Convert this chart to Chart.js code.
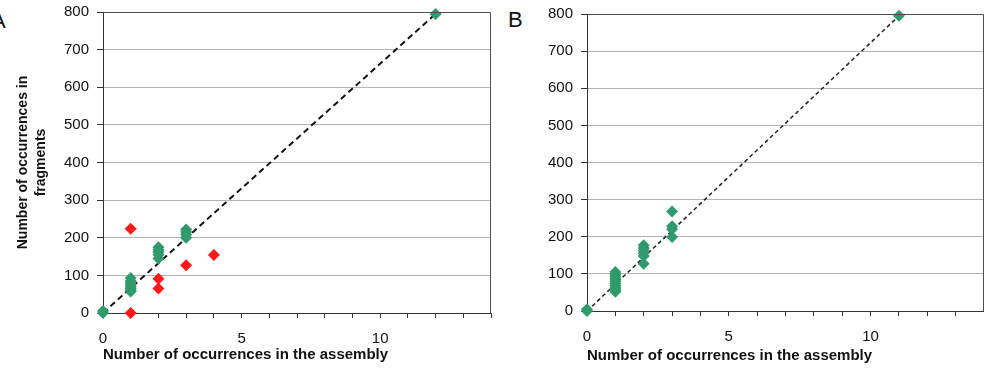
<!DOCTYPE html>
<html><head><meta charset="utf-8">
<script src="https://cdn.jsdelivr.net/npm/chart.js@4"></script>
<style>
html,body{margin:0;padding:0;background:#fff;width:984px;height:371px;overflow:hidden;font-family:"Liberation Sans",Arial,sans-serif;position:relative;}
canvas{position:absolute;top:0;}
.lbl{position:absolute;font-size:22px;color:#111;}
</style></head><body>
<div class="lbl" style="left:-9px;top:8px;">A</div>
<div class="lbl" style="left:508px;top:7px;">B</div>
<canvas id="ca" width="497" height="371" style="left:0"></canvas>
<canvas id="cb" width="490" height="371" style="left:500px"></canvas>
<script>
// Panel A data
const aGreenX = [0,0,1,1,1,1,1,1,1,1,2,2,2,2,2,3,3,3,3,12];
const aGreenY = [0,5,93,85,80,75,70,65,60,57,175,168,162,155,145,222,215,208,200,795];
const aRedX = [1,1,2,2,3,4];
const aRedY = [224,0,91,65,127,154];
const aLineX = [0,12];
const aLineY = [0,795];
// Panel B data
const bGreenX = [0,0,1,1,1,1,1,1,1,1,1,1,2,2,2,2,2,2,3,3,3,3,11];
const bGreenY = [0,5,105,98,92,86,80,74,68,62,57,52,177,170,163,156,148,127,268,228,220,199,795];
const bLineX = [0,11];
const bLineY = [0,795];
// Axis ticks
const xMin = 0, xMax = 14, xStep = 1, xLabelEvery = 5;
const yMin = 0, yMax = 800, yStep = 100;
const xTitle = 'Number of occurrences in the assembly';
const yTitleA = ['Number of occurrences in', 'fragments'];

const GREEN = '#2f9a6c', RED = '#ff1a1a';
const pts = (xs, ys) => xs.map((x, i) => ({x, y: ys[i]}));
const FONT = '"Liberation Sans", Arial, sans-serif';

const frame = {
  id: 'frame',
  afterDraw(c) {
    const a = c.chartArea, ctx = c.ctx;
    ctx.save();
    ctx.strokeStyle = '#505050'; ctx.lineWidth = 1;
    ctx.beginPath();
    ctx.moveTo(Math.round(a.left) + 0.5, Math.round(a.top) + 0.5);
    ctx.lineTo(Math.round(a.right) - 0.5, Math.round(a.top) + 0.5);
    ctx.lineTo(Math.round(a.right) - 0.5, Math.round(a.bottom));
    ctx.stroke();
    ctx.restore();
  }
};

function makeChart(id, datasets, opts) {
  return new Chart(document.getElementById(id), {
    type: 'scatter',
    data: {datasets},
    plugins: [frame],
    options: {
      responsive: false, animation: false, devicePixelRatio: 1,
      layout: {padding: {top: opts.top, right: 0, left: 0, bottom: 0}},
      plugins: {legend: {display: false}, tooltip: {enabled: false}},
      scales: {
        x: {
          type: 'linear', min: xMin, max: xMax,
          afterFit(s) { s.height = opts.xh; s.paddingLeft = 0; s.paddingRight = 0; },
          ticks: {stepSize: xStep, autoSkip: false, color: '#111', padding: 12,
            maxRotation: 0,
            font: {family: FONT, size: 15},
            callback: v => (v % xLabelEvery === 0 ? String(v) : '')},
          grid: {drawOnChartArea: false, drawTicks: true, tickLength: 5, tickColor: '#333'},
          border: {color: '#333', width: 1},
          title: {display: true, text: xTitle, align: 'start', color: '#111',
            font: {family: FONT, size: 15, weight: 'bold', lineHeight: 1.2},
            padding: {top: 0, bottom: opts.xtp}}
        },
        y: {
          type: 'linear', min: yMin, max: yMax,
          afterFit(s) { s.width = opts.yw; s.paddingTop = 0; s.paddingBottom = 0; },
          ticks: {stepSize: yStep, color: '#111', padding: 8,
            font: {family: FONT, size: 15}},
          grid: {color: '#b4b4b4', tickColor: '#333', tickLength: 6},
          border: {color: '#333', width: 1},
          title: opts.ytitle ? {display: true, text: opts.ytitle, color: '#111',
            font: {family: FONT, size: 14, weight: 'bold', lineHeight: 1.3},
            padding: {top: 14, bottom: 0}} : {display: false}
        }
      }
    }
  });
}

const diamond = (data, color) => ({
  type: 'scatter', data, pointStyle: 'rectRot', pointRadius: 6,
  backgroundColor: color, borderColor: color, borderWidth: 0, clip: false
});
const trend = (data, dash, w, color) => ({
  type: 'line', data, showLine: true, borderColor: color, borderWidth: w,
  borderDash: dash, pointRadius: 0, fill: false, clip: false, order: 10
});

makeChart('ca', [
  diamond(pts(aRedX, aRedY), RED),
  diamond(pts(aGreenX, aGreenY), GREEN),
  trend(pts(aLineX, aLineY), [6, 4], 2, '#111')
], {top: 12, xh: 58, yw: 103, xtp: 7, ytitle: yTitleA});

makeChart('cb', [
  diamond(pts(bGreenX, bGreenY), GREEN),
  trend(pts(bLineX, bLineY), [4, 3], 1.5, '#222')
], {top: 14, xh: 60, yw: 87, xtp: 6, ytitle: null});
</script>
</body></html>
